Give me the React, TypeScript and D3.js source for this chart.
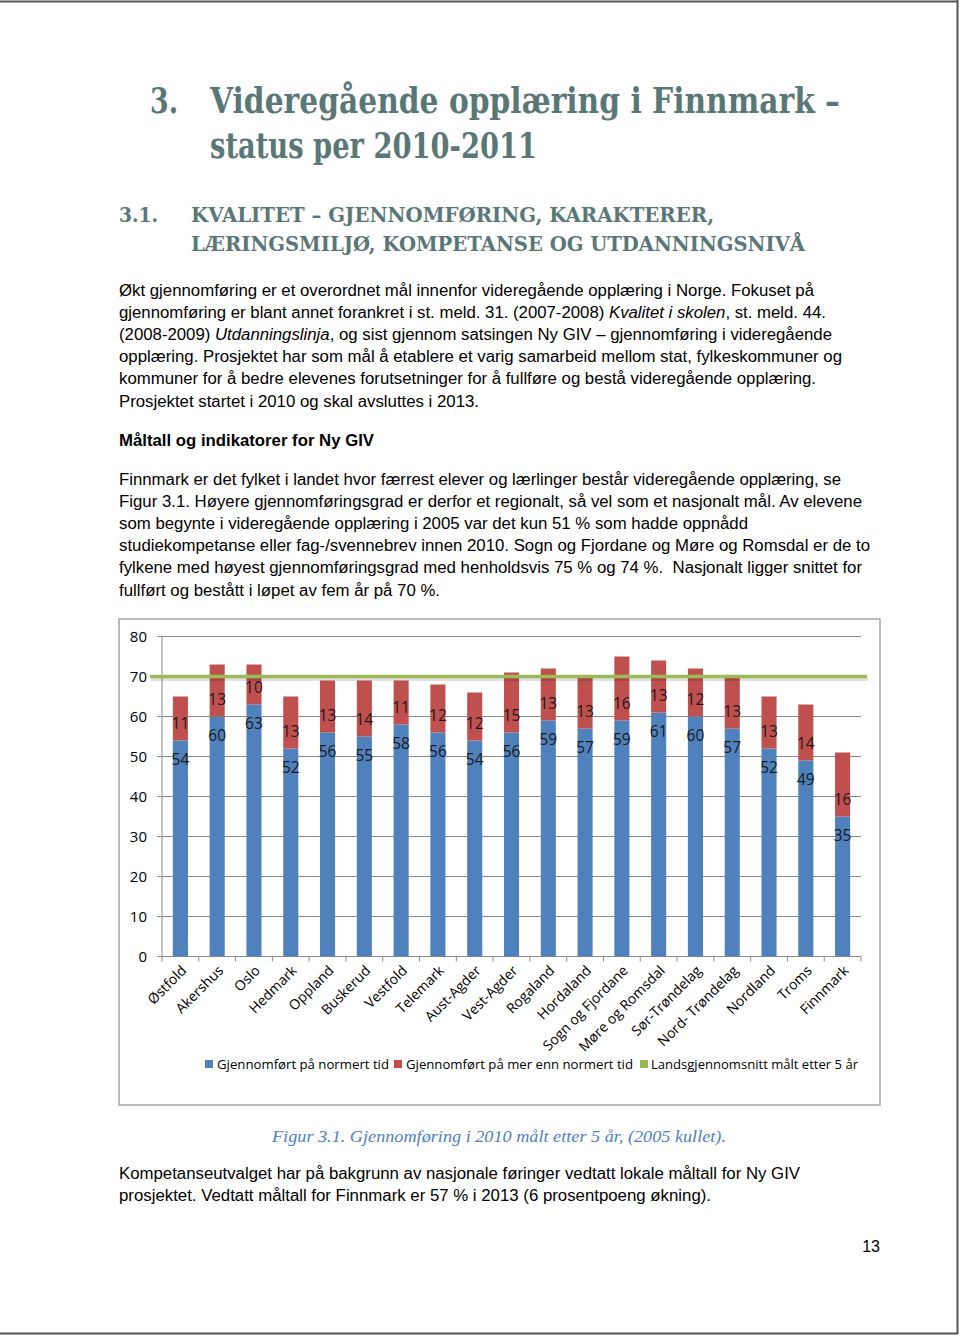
import React from "react";
import * as d3 from "d3";

const categories = ["Østfold","Akershus","Oslo","Hedmark","Oppland","Buskerud","Vestfold","Telemark","Aust-Agder","Vest-Agder","Rogaland","Hordaland","Sogn og Fjordane","Møre og Romsdal","Sør-Trøndelag","Nord- Trøndelag","Nordland","Troms","Finnmark"];
const normertTid = [54,60,63,52,56,55,58,56,54,56,59,57,59,61,60,57,52,49,35];
const merEnnNormert = [11,13,10,13,13,14,11,12,12,15,13,13,16,13,12,13,13,14,16];
const landsgjennomsnitt = 70;
const yTicks = [0,10,20,30,40,50,60,70,80];
const legendLabels = ["Gjennomført på normert tid","Gjennomført på mer enn normert tid","Landsgjennomsnitt målt etter 5 år"];

const BLUE = "#4f81bd";
const RED = "#c0504d";
const GREEN = "#9bbb59";
const HEAD = "#5a7777";

type Seg = { t: string; i?: boolean };
const para1: { segs: Seg[]; w: number; y: number }[] = [
  { segs: [{ t: "Økt gjennomføring er et overordnet mål innenfor videregående opplæring i Norge. Fokuset på" }], w: 695, y: 296 },
  { segs: [{ t: "gjennomføring er blant annet forankret i st. meld. 31. (2007-2008) " }, { t: "Kvalitet i skolen", i: true }, { t: ", st. meld. 44." }], w: 707, y: 318 },
  { segs: [{ t: "(2008-2009) " }, { t: "Utdanningslinja", i: true }, { t: ", og sist gjennom satsingen Ny GIV – gjennomføring i videregående" }], w: 713, y: 340 },
  { segs: [{ t: "opplæring. Prosjektet har som mål å etablere et varig samarbeid mellom stat, fylkeskommuner og" }], w: 723, y: 362 },
  { segs: [{ t: "kommuner for å bedre elevenes forutsetninger for å fullføre og bestå videregående opplæring." }], w: 697, y: 384 },
  { segs: [{ t: "Prosjektet startet i 2010 og skal avsluttes i 2013." }], w: 360, y: 407 },
];
const para2: { t: string; w: number; y: number }[] = [
  { t: "Finnmark er det fylket i landet hvor færrest elever og lærlinger består videregående opplæring, se", w: 722, y: 485 },
  { t: "Figur 3.1. Høyere gjennomføringsgrad er derfor et regionalt, så vel som et nasjonalt mål. Av elevene", w: 743, y: 507 },
  { t: "som begynte i videregående opplæring i 2005 var det kun 51 % som hadde oppnådd", w: 629, y: 529 },
  { t: "studiekompetanse eller fag-/svennebrev innen 2010. Sogn og Fjordane og Møre og Romsdal er de to", w: 751, y: 551 },
  { t: "fylkene med høyest gjennomføringsgrad med henholdsvis 75 % og 74 %.\u00a0 Nasjonalt ligger snittet for", w: 743, y: 573 },
  { t: "fullført og bestått i løpet av fem år på 70 %.", w: 321, y: 596 },
];
const para3: { t: string; w: number; y: number }[] = [
  { t: "Kompetanseutvalget har på bakgrunn av nasjonale føringer vedtatt lokale måltall for Ny GIV", w: 681, y: 1179 },
  { t: "prosjektet. Vedtatt måltall for Finnmark er 57 % i 2013 (6 prosentpoeng økning).", w: 592, y: 1201 },
];

export default function App() {
  const plotL = 162, plotR = 861, plotT = 636.5, plotB = 956.5;
  const y = d3.scaleLinear().domain([0, 80]).range([plotB, plotT]);
  const x = d3.scaleBand<string>().domain(categories).range([plotL, plotR]).padding(0);
  const bw = x.bandwidth() * 0.41;
  const cx = (c: string) => (x(c) as number) + x.bandwidth() / 2;
  const body = "'Liberation Sans', Arial, sans-serif";
  const chartFont = "'Open Sans', sans-serif";
  const lineGen = d3.line<number>().x((d) => d).y(() => y(landsgjennomsnitt));
  const greenPts = [plotL - 12, plotR + 6];

  return (
    <svg width={960} height={1337} style={{ position: "absolute", left: 0, top: 0, background: "#fff" }}>
      <rect x={0} y={0} width={960} height={1337} fill="#fff" />
      {/* page frame */}
      <line x1={0} y1={1.5} x2={958} y2={1.5} stroke="#555" strokeWidth={2} />
      <line x1={957.5} y1={0} x2={957.5} y2={1334} stroke="#555" strokeWidth={2} />
      <line x1={0} y1={1333.5} x2={958} y2={1333.5} stroke="#555" strokeWidth={2} />

      {/* headings */}
      <g fill={HEAD} fontFamily="'DejaVu Serif', serif" fontWeight="bold">
        <text x={150} y={113} fontSize={35} textLength={28} lengthAdjust="spacingAndGlyphs">3.</text>
        <text x={210} y={113} fontSize={35} textLength={630} lengthAdjust="spacingAndGlyphs">Videregående opplæring i Finnmark –</text>
        <text x={210} y={158} fontSize={35} textLength={327} lengthAdjust="spacingAndGlyphs">status per 2010-2011</text>
        <text x={119} y={222} fontSize={21} textLength={39} lengthAdjust="spacingAndGlyphs">3.1.</text>
        <text x={191} y={222} fontSize={21} textLength={523} lengthAdjust="spacingAndGlyphs">KVALITET – GJENNOMFØRING, KARAKTERER,</text>
        <text x={191} y={251} fontSize={21} textLength={614} lengthAdjust="spacingAndGlyphs">LÆRINGSMILJØ, KOMPETANSE OG UTDANNINGSNIVÅ</text>
      </g>

      {/* body text */}
      <g fontFamily={body} fontSize={16} fill="#000">
        {para1.map((l, i) => (
          <text key={i} x={119} y={l.y} textLength={l.w} lengthAdjust="spacingAndGlyphs">
            {l.segs.map((s, j) => (
              <tspan key={j} fontStyle={s.i ? "italic" : "normal"}>{s.t}</tspan>
            ))}
          </text>
        ))}
        <text x={119} y={446} fontWeight="bold" textLength={255} lengthAdjust="spacingAndGlyphs">Måltall og indikatorer for Ny GIV</text>
        {para2.map((l, i) => (
          <text key={i} x={119} y={l.y} textLength={l.w} lengthAdjust="spacingAndGlyphs">{l.t}</text>
        ))}
        {para3.map((l, i) => (
          <text key={i} x={119} y={l.y} textLength={l.w} lengthAdjust="spacingAndGlyphs">{l.t}</text>
        ))}
        <text x={880} y={1252} textAnchor="end">13</text>
      </g>

      {/* caption */}
      <text x={272} y={1142} fontFamily="'Liberation Serif', serif" fontStyle="italic" fontSize={16.5} fill="#4f81bd" textLength={454} lengthAdjust="spacingAndGlyphs">
        Figur 3.1. Gjennomføring i 2010 målt etter 5 år, (2005 kullet).
      </text>

      {/* chart frame */}
      <rect x={119} y={619} width={761} height={486} fill="#fff" stroke="#a6a6a6" strokeWidth={1.5} />

      {/* gridlines and y axis */}
      <g>
        {yTicks.map((t) => (
          <g key={t}>
            <line x1={plotL} x2={plotR} y1={y(t)} y2={y(t)} stroke="#8a8a8a" strokeWidth={1} />
            <line x1={plotL - 5} x2={plotL} y1={y(t)} y2={y(t)} stroke="#8a8a8a" strokeWidth={1} />
            <text x={147} y={y(t)} dy="0.35em" textAnchor="end" fontFamily={chartFont} fontSize={15} fill="#000">{t}</text>
          </g>
        ))}
        <line x1={plotL} x2={plotL} y1={plotT} y2={plotB} stroke="#8a8a8a" strokeWidth={1} />
        {categories.map((c) => (
          <line key={c} x1={x(c) as number} x2={x(c) as number} y1={plotB} y2={plotB + 5} stroke="#8a8a8a" strokeWidth={1} />
        ))}
        <line x1={plotR} x2={plotR} y1={plotB} y2={plotB + 5} stroke="#8a8a8a" strokeWidth={1} />
      </g>

      {/* bars */}
      <g>
        {categories.map((c, i) => {
          const b = normertTid[i];
          const r = merEnnNormert[i];
          return (
            <g key={c}>
              <rect x={cx(c) - bw / 2} y={y(b)} width={bw} height={y(0) - y(b)} fill={BLUE} />
              <rect x={cx(c) - bw / 2} y={y(b + r)} width={bw} height={y(b) - y(b + r)} fill={RED} />
            </g>
          );
        })}
      </g>

      {/* average line */}
      <path d={lineGen(greenPts.map((p) => p + 1)) as string} transform="translate(0,2.5)" stroke="#000" strokeOpacity={0.12} strokeWidth={4} fill="none" />
      <path d={lineGen(greenPts) as string} stroke={GREEN} strokeWidth={3.5} fill="none" />

      {/* data labels */}
      <g fontFamily={chartFont} fontSize={15.5} fill="#1a1a1a" textAnchor="middle">
        {categories.map((c, i) => {
          const b = normertTid[i];
          const r = merEnnNormert[i];
          return (
            <g key={c}>
              <text x={cx(c)} y={y(b) + 19.5} dy="0.35em">{b}</text>
              <text x={cx(c)} y={y(b) - 16.5} dy="0.35em">{r}</text>
            </g>
          );
        })}
      </g>

      {/* x labels */}
      <g fontFamily={chartFont} fontSize={14} fill="#000">
        {categories.map((c) => (
          <text key={c} transform={`translate(${cx(c) + 7},${plotB + 15}) rotate(-45)`} textAnchor="end">{c}</text>
        ))}
      </g>

      {/* legend */}
      <g fontFamily={chartFont} fontSize={13} fill="#000">
        {[{ c: BLUE, sx: 205, tx: 217, w: 172 }, { c: RED, sx: 394, tx: 406, w: 227 }, { c: GREEN, sx: 640, tx: 651, w: 207 }].map((l, i) => (
          <g key={i}>
            <rect x={l.sx} y={1060} width={8} height={8} fill={l.c} />
            <text x={l.tx} y={1064} dy="0.35em" textLength={l.w} lengthAdjust="spacingAndGlyphs">{legendLabels[i]}</text>
          </g>
        ))}
      </g>
    </svg>
  );
}
